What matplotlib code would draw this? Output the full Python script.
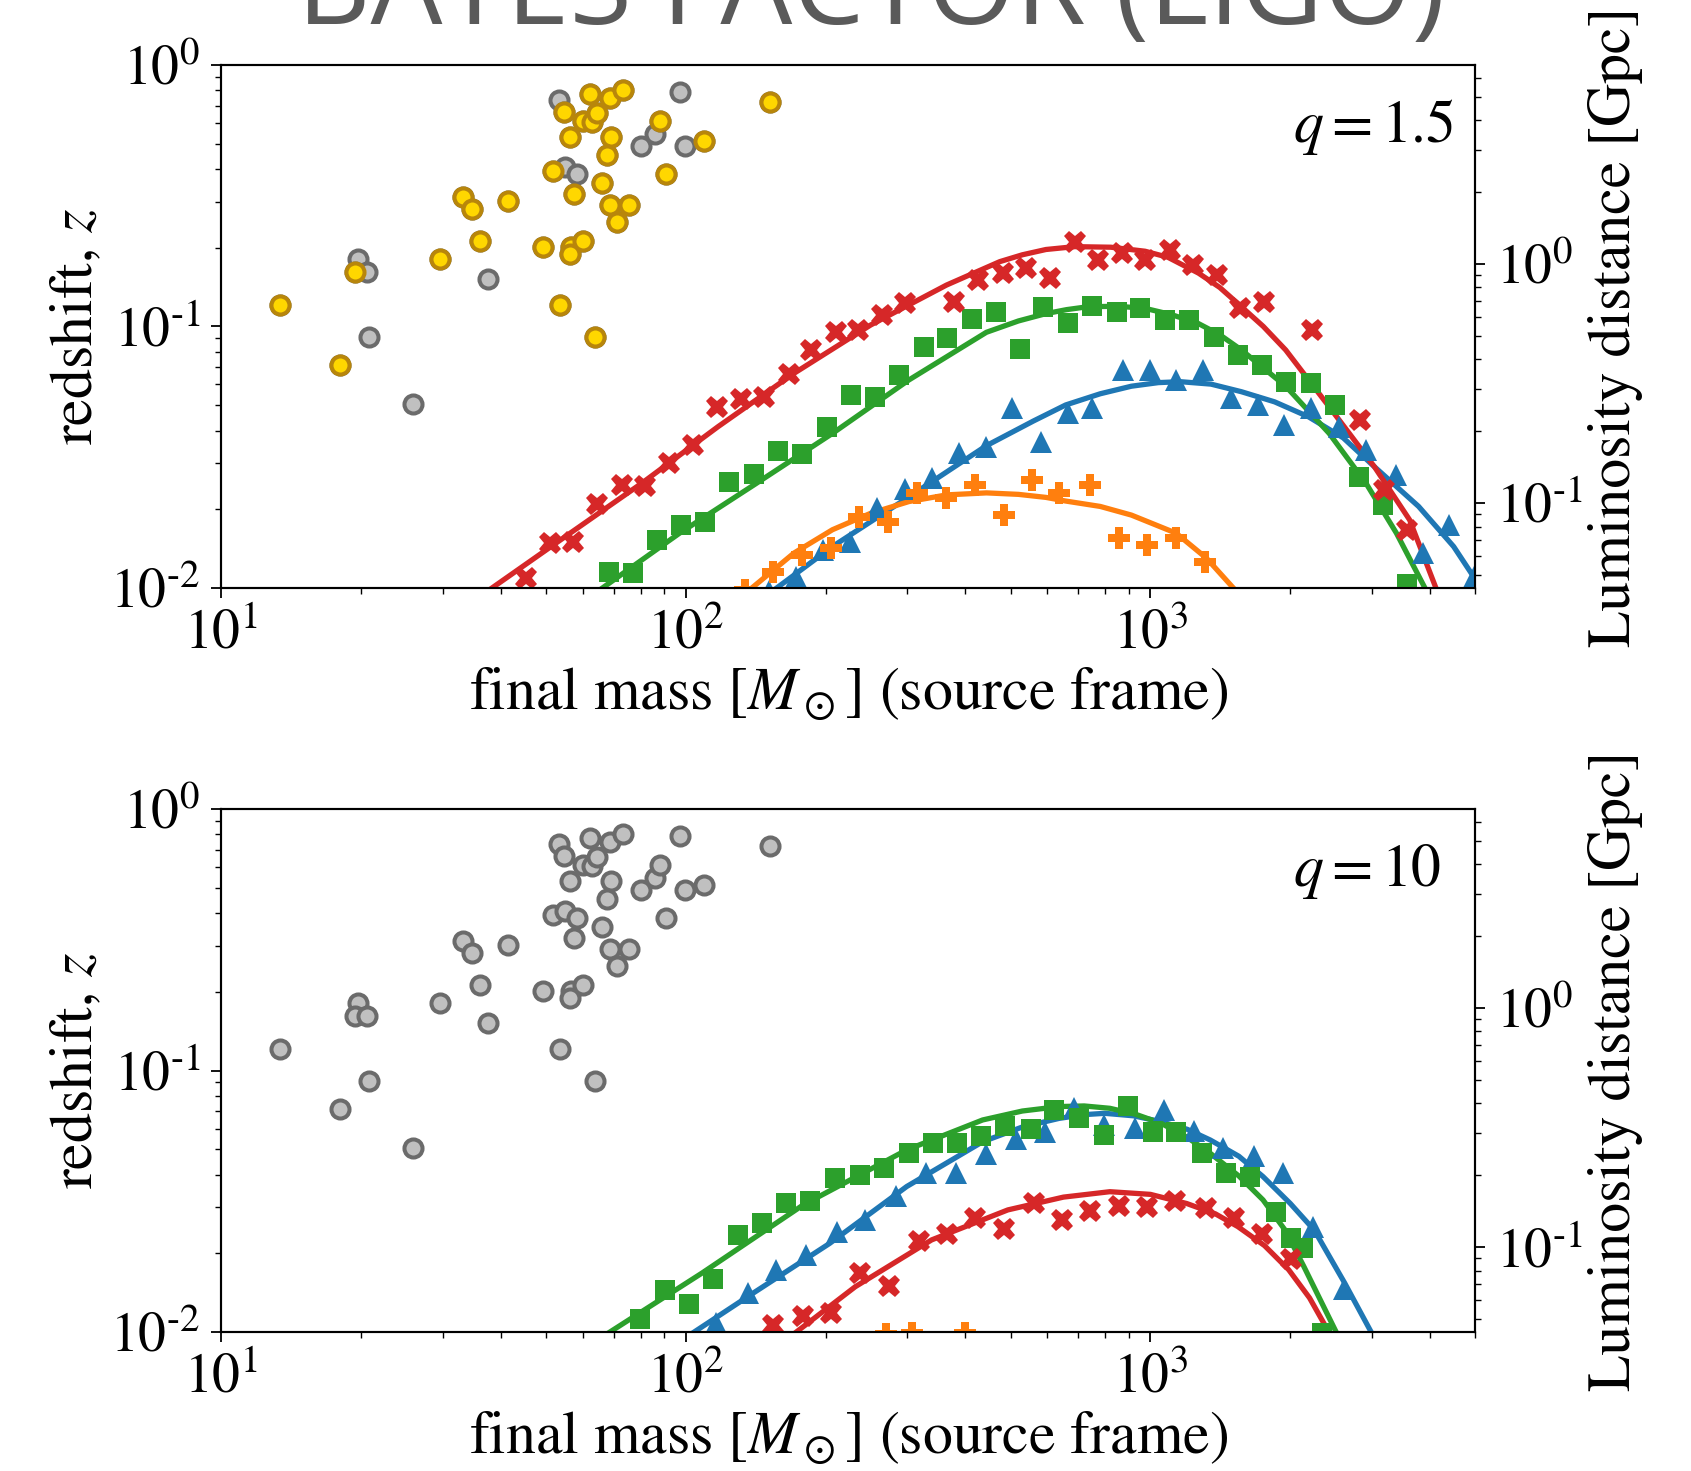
import numpy as np
import matplotlib
matplotlib.use("Agg")
import matplotlib.pyplot as plt
from matplotlib.ticker import FuncFormatter

plt.rcParams['font.family'] = 'STIXGeneral'
plt.rcParams['mathtext.fontset'] = 'stix'
plt.rcParams['axes.unicode_minus'] = False

# LIGO events (final mass, redshift); flag 1 = drawn yellow in the q=1.5 panel
ev_mass = [13.4, 18.0, 19.7, 19.4, 20.6, 20.8, 25.9, 29.6, 33.2, 34.6, 36.0, 37.6,
           41.5, 49.4, 51.7, 53.6, 53.4, 54.8, 55.1, 58.3, 56.4, 57.4, 56.7, 56.5,
           60.0, 60.0, 62.9, 64.4, 62.1, 68.8, 73.2, 69.2, 67.6, 66.0, 68.8, 75.6,
           71.2, 63.8, 80.2, 86.0, 88.2, 90.7, 97.3, 99.7, 109.6, 151.9]
ev_z = [0.121, 0.071, 0.181, 0.162, 0.162, 0.091, 0.0505, 0.181, 0.312, 0.281, 0.212, 0.152,
        0.302, 0.202, 0.393, 0.121, 0.735, 0.663, 0.409, 0.382, 0.532, 0.321, 0.202, 0.190,
        0.212, 0.610, 0.607, 0.653, 0.773, 0.750, 0.802, 0.532, 0.452, 0.353, 0.292, 0.292,
        0.252, 0.091, 0.491, 0.543, 0.612, 0.382, 0.791, 0.491, 0.514, 0.724]
ev_yellow = [1, 1, 0, 1, 0, 0, 0, 1, 1, 1, 1, 0,
             1, 1, 1, 1, 0, 1, 0, 0, 1, 1, 1, 1,
             1, 1, 1, 1, 1, 1, 1, 1, 1, 1, 1, 1,
             1, 1, 0, 0, 1, 1, 0, 0, 1, 1]

# luminosity distance [Gpc] at z = 0.01 and z = 1 (right axis limits)
dl_lo = 0.0443
dl_hi = 6.79

# ---- q = 1.5 panel ----
q15_red_m = [45.4, 51.1, 57.3, 64.5, 73.0, 81.8, 91.9, 103.6, 116.6, 131.4, 147.2, 166.5,
             186.5, 210.2, 235.0, 265.0, 296.9, 378.5, 425.6, 481.4, 539.5, 609.5, 687.5,
             769.9, 870.1, 974.5, 1099.5, 1233.6, 1388.6, 1558.5, 1757.7, 2225, 2829, 3183, 3573]
q15_red_z = [0.0109, 0.0148, 0.0150, 0.0209, 0.0248, 0.0245, 0.0300, 0.0352, 0.0493, 0.0527,
             0.0536, 0.0658, 0.0813, 0.0955, 0.0970, 0.1106, 0.1227, 0.1245, 0.1506, 0.1606,
             0.167, 0.1528, 0.211, 0.1796, 0.1905, 0.1796, 0.196, 0.1718, 0.1573, 0.1173,
             0.1245, 0.097, 0.0439, 0.0237, 0.0167]
q15_green_m = [68.3, 76.9, 86.6, 97.9, 110.3, 124.1, 140.4, 158.2, 177.9, 201.3, 226.8, 255.1,
               287.4, 325.1, 365.6, 413.7, 465.2, 524.3, 587.4, 665, 750, 845.9, 949.3, 1075.5,
               1212.8, 1367.4, 1542, 1739, 1961, 2211, 2492, 2811, 3169, 3573]
q15_green_z = [0.01155, 0.01138, 0.01526, 0.0174, 0.0178, 0.0255, 0.0273, 0.0335, 0.0325,
               0.0414, 0.0547, 0.0539, 0.0652, 0.0837, 0.0901, 0.1066, 0.1139, 0.0818, 0.119,
               0.1028, 0.1198, 0.1139, 0.1173, 0.1059, 0.1059, 0.0914, 0.0778, 0.0713, 0.0615,
               0.0610, 0.0501, 0.0265, 0.0208, 0.0104]
q15_blue_m = [151, 172.9, 197.4, 225.4, 257.4, 296.9, 338.9, 387.1, 441.9, 504.9, 582, 665.3,
              749.9, 873.7, 996, 1136, 1295, 1492, 1701, 1940, 2211, 2547, 2904, 3383, 3858,
              4397, 4961]
q15_blue_z = [0.0097, 0.01104, 0.01397, 0.01503, 0.0202, 0.0238, 0.0263, 0.0327, 0.0347, 0.0487,
              0.0363, 0.0466, 0.0487, 0.0682, 0.0682, 0.0624, 0.0682, 0.0531, 0.0501, 0.042,
              0.0487, 0.0414, 0.0337, 0.0271, 0.0136, 0.0174, 0.011]
q15_orange_m = [134, 154.3, 177.9, 205.1, 236.4, 272.5, 314.2, 363.6, 419.2, 483.3, 557.1,
                636.9, 742, 855, 985.4, 1136, 1309]
q15_orange_z = [0.0098, 0.01155, 0.01337, 0.0142, 0.0187, 0.0179, 0.023, 0.022, 0.0248, 0.019,
                0.0259, 0.023, 0.0248, 0.0155, 0.0146, 0.0155, 0.0126]

q15_red_fit_m = [38.3, 55.0, 80.3, 117.4, 171, 250, 364, 474, 530, 596, 687, 822, 974, 1090,
                 1269, 1410, 1570, 1750, 1955, 2425, 3033, 3613, 4115]
q15_red_fit_z = [0.01, 0.0157, 0.0251, 0.0414, 0.0662, 0.1013, 0.144, 0.177, 0.188, 0.197,
                 0.202, 0.201, 0.194, 0.184, 0.16, 0.141, 0.119, 0.100, 0.0813, 0.0493, 0.0291,
                 0.0182, 0.01]
q15_green_fit_m = [66.2, 97, 141.8, 206.9, 302, 443.6, 520, 596, 660, 733, 850, 974, 1110, 1266,
                   1410, 1570, 1955, 2425, 2912, 3384, 3897]
q15_green_fit_z = [0.01, 0.0162, 0.0251, 0.039, 0.0624, 0.095, 0.105, 0.112, 0.116, 0.119,
                   0.1195, 0.1173, 0.111, 0.1028, 0.093, 0.0813, 0.0591, 0.039, 0.0251, 0.0162,
                   0.01]
q15_blue_fit_m = [157, 206.9, 302.2, 443.6, 560, 657, 780, 910, 1040, 1160, 1350, 1570, 1850,
                  2186, 2600, 3033, 3777, 4493, 5000]
q15_blue_fit_z = [0.01, 0.0144, 0.0223, 0.035, 0.0435, 0.0501, 0.0553, 0.0591, 0.061, 0.0615,
                  0.0602, 0.0563, 0.0515, 0.0452, 0.0375, 0.0291, 0.0205, 0.0144, 0.0108]
q15_orange_fit_m = [138.8, 171, 206.9, 250, 302.2, 364.6, 443.6, 520, 596, 657, 780, 910, 1136,
                    1320, 1508]
q15_orange_fit_z = [0.01, 0.0136, 0.0167, 0.0193, 0.0214, 0.0227, 0.0231, 0.0228, 0.0222, 0.0215,
                    0.0205, 0.019, 0.0162, 0.013, 0.01]

# ---- q = 10 panel ----
q10_red_m = [154.4, 178.8, 205.4, 237.3, 274.1, 317.3, 364.6, 419.1, 484, 560.5, 643.9, 740,
             856.9, 984.2, 1131, 1316, 1513, 1739, 2008]
q10_red_z = [0.01063, 0.0115, 0.01179, 0.01686, 0.015, 0.0223, 0.0238, 0.0274, 0.0247, 0.0312,
             0.0268, 0.0291, 0.0303, 0.0300, 0.0318, 0.0297, 0.0272, 0.0236, 0.0191]
q10_green_m = [79.6, 90.3, 101.7, 114.6, 129.4, 146, 164.4, 185.2, 209.1, 237.3, 267.2, 301.8,
               340.7, 383.5, 433, 487.5, 553.4, 620, 703.7, 794.3, 894.4, 1015, 1137, 1290,
               1457, 1640, 1861, 2008, 2128, 2337]
q10_green_z = [0.01118, 0.01447, 0.0128, 0.0159, 0.0234, 0.0262, 0.0312, 0.0317, 0.0387, 0.0399,
               0.0423, 0.0482, 0.0527, 0.0527, 0.0563, 0.0613, 0.0596, 0.0706, 0.0656, 0.0567,
               0.0731, 0.0583, 0.058, 0.0482, 0.0407, 0.0393, 0.0287, 0.0228, 0.0209, 0.0099]
q10_blue_m = [116.3, 136.0, 156.3, 181.9, 211.7, 243.3, 283.1, 329.5, 381.5, 442.8, 512.9, 592.3,
              686, 794.3, 924.5, 1068, 1243, 1435, 1670, 1933, 2239, 2605]
q10_blue_z = [0.01085, 0.01413, 0.01726, 0.0197, 0.0242, 0.0268, 0.0331, 0.0407, 0.0405, 0.048,
              0.0545, 0.0583, 0.0717, 0.0619, 0.0601, 0.0706, 0.0587, 0.0504, 0.0471, 0.0405,
              0.0251, 0.01456]
q10_orange_m = [269.5, 307.4, 398.9]
q10_orange_z = [0.0098, 0.0099, 0.0099]

q10_red_fit_m = [173, 231.7, 338.2, 493.3, 650, 818, 1000, 1197, 1380, 1542, 1760, 1984, 2200, 2420]
q10_red_fit_z = [0.01, 0.0149, 0.0225, 0.0293, 0.0328, 0.0344, 0.0336, 0.031, 0.0283, 0.0253,
                 0.0214, 0.0173, 0.0135, 0.01]
q10_green_fit_m = [68.7, 108.4, 178.9, 298.9, 435.4, 530, 636, 720, 818, 930, 1055, 1200, 1346,
                   1550, 1747, 1950, 2139, 2510]
q10_green_fit_z = [0.01, 0.0168, 0.0306, 0.0497, 0.0647, 0.070, 0.0728, 0.0732, 0.0717, 0.068,
                   0.0628, 0.0555, 0.0482, 0.0395, 0.032, 0.0245, 0.0178, 0.01]
q10_blue_fit_m = [104.3, 139.5, 203.9, 298.9, 435.4, 530, 636, 720, 797.6, 920, 1055, 1200, 1346,
                  1550, 1747, 2000, 2253, 2618, 2985]
q10_blue_fit_z = [0.01, 0.01406, 0.0218, 0.036, 0.0534, 0.0608, 0.0656, 0.0678, 0.0686, 0.0671,
                  0.0637, 0.0596, 0.0542, 0.047, 0.0393, 0.031, 0.0245, 0.0154, 0.01]

RED, GREEN, BLUE, ORANGE = '#d62728', '#2ca02c', '#1f77b4', '#ff7f0e'
FS = 43
TFS = 40


def pow_label(v, pos):
    e = int(round(np.log10(v)))
    if e < 0:
        return '$10^{\u2010%d}$' % -e
    return '$10^{%d}$' % e


def draw_events(ax, yellow):
    ax.plot(ev_mass, ev_z, 'o', ms=13, mfc='#c0c0c0', mec='#6b6b6b', mew=2.9, zorder=3)
    if yellow:
        ym = [m for m, f in zip(ev_mass, ev_yellow) if f]
        yz = [z for z, f in zip(ev_z, ev_yellow) if f]
        ax.plot(ym, yz, 'o', ms=13, mfc='#ffd700', mec='#b8860b', mew=2.9, zorder=4)


def series(ax, fm, fz, m, z, color, marker, ms):
    ax.plot(fm, fz, '-', color=color, lw=3.8, zorder=5, solid_joinstyle='round')
    ax.plot(m, z, ls='none', marker=marker, ms=ms, color=color, mew=0, zorder=6)


def setup(ax, qtext):
    ax.set_xscale('log')
    ax.set_yscale('log')
    ax.set_xlim(10, 5000)
    ax.set_ylim(0.01, 1)
    ax.xaxis.set_major_formatter(FuncFormatter(pow_label))
    ax.yaxis.set_major_formatter(FuncFormatter(pow_label))
    ax.set_xlabel(r'final mass $\left[M_\odot\right]$ (source frame)', fontsize=FS)
    ax.set_ylabel(r'redshift, $z$', fontsize=FS)
    ax.tick_params(which='both', direction='out', labelsize=TFS, right=False, top=False)
    ax.tick_params(which='major', length=7, width=1.3, pad=8)
    ax.tick_params(which='minor', length=4, width=1)
    for s in ax.spines.values():
        s.set_linewidth(1.5)
    ax.text(0.855, 0.853, qtext, transform=ax.transAxes, fontsize=FS, va='baseline')
    tw = ax.twinx()
    tw.set_yscale('log')
    tw.set_ylim(dl_lo, dl_hi)
    tw.yaxis.set_major_formatter(FuncFormatter(pow_label))
    tw.set_ylabel('Luminosity distance [Gpc]', fontsize=FS)
    tw.tick_params(which='both', direction='out', labelsize=TFS)
    tw.tick_params(which='major', length=7, width=1.3, pad=8)
    tw.tick_params(which='minor', length=4, width=1)
    for s in tw.spines.values():
        s.set_linewidth(1.5)


fig = plt.figure(figsize=(16.91, 14.71), dpi=100)
ax1 = fig.add_axes([0.1307, 0.6003, 0.7417, 0.3555])
ax2 = fig.add_axes([0.1307, 0.0945, 0.7417, 0.3555])

draw_events(ax1, True)
series(ax1, q15_blue_fit_m, q15_blue_fit_z, q15_blue_m, q15_blue_z, BLUE, '^', 15.5)
series(ax1, q15_green_fit_m, q15_green_fit_z, q15_green_m, q15_green_z, GREEN, 's', 14.5)
series(ax1, q15_orange_fit_m, q15_orange_fit_z, q15_orange_m, q15_orange_z, ORANGE, 'P', 15.5)
series(ax1, q15_red_fit_m, q15_red_fit_z, q15_red_m, q15_red_z, RED, 'X', 16)
setup(ax1, r'$q = 1.5$')

draw_events(ax2, False)
series(ax2, q10_blue_fit_m, q10_blue_fit_z, q10_blue_m, q10_blue_z, BLUE, '^', 15.5)
series(ax2, q10_green_fit_m, q10_green_fit_z, q10_green_m, q10_green_z, GREEN, 's', 14.5)
ax2.plot(q10_orange_m, q10_orange_z, ls='none', marker='P', ms=15.5, color=ORANGE, mew=0, zorder=6)
series(ax2, q10_red_fit_m, q10_red_fit_z, q10_red_m, q10_red_z, RED, 'X', 16)
setup(ax2, r'$q = 10$')

fig.text(0.515, 0.9837, 'BAYES FACTOR (LIGO)', ha='center', va='baseline',
         fontsize=82, color='#5a5a5a', family='Open Sans')

fig.savefig('out.png', dpi=100)
